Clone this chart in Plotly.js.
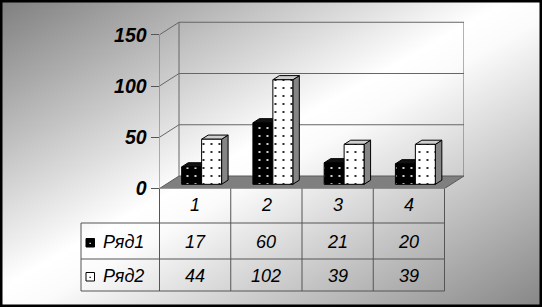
<!DOCTYPE html>
<html><head><meta charset="utf-8">
<script src="https://cdn.plot.ly/plotly-3.0.1.min.js"></script>
<style>
html,body{margin:0;padding:0;background:#fff;}
#chart{width:542px;height:307px;background:linear-gradient(to bottom right,#7e7e7e 0%,#ffffff 47%,#fbfbfb 53%,#868686 100%);}
</style></head><body><div id="chart"></div>
<script>
const categories = ['1', '2', '3', '4'];
const seriesNames = ['Ряд1', 'Ряд2'];
const series1 = [17, 60, 21, 20];
const series2 = [44, 102, 39, 39];
const yTicks = [0, 50, 100, 150];

const allSeries = [series1, series2];
const W = 542, H = 307;
const X0 = 159.5, CAT = 71.25, DXP = 19.5, DYP = 12.5, Y0 = 188.5, S = 1.025, YTOP = 20;
const N = categories.length;
const DXu = DXP / CAT, DYu = DYP / S;
const yMax = (Y0 - YTOP) / S;
const BW = 0.28;
const baseV = DYu / 3;
const px = x => x / W, py = y => 1 - y / H;
const P = (u, v, f) => [u + f * DXu, v + f * DYu];
const path = pts => 'M' + pts.map(p => p[0] + ',' + p[1]).join('L') + 'Z';
const FONT = 'Arial, "Liberation Sans", sans-serif';
const wallTop = yTicks[yTicks.length - 1];

const shapes = [];
const gl = {color: '#666', width: 1};
// floor
shapes.push({type: 'path', xref: 'x', yref: 'y', layer: 'below',
  path: path([P(0, 0, 0), P(N, 0, 0), P(N, 0, 1), P(0, 0, 1)]),
  fillcolor: '#7f7f7f', line: {color: '#5a5a5a', width: 1}});
// walls
yTicks.forEach(t => {
  if (t > 0) {
    const a = P(0, t, 1), b = P(N, t, 1), c = P(0, t, 0);
    shapes.push({type: 'line', xref: 'x', yref: 'y', layer: 'below', x0: a[0], y0: a[1], x1: b[0], y1: b[1], line: gl});
    shapes.push({type: 'line', xref: 'x', yref: 'y', layer: 'below', x0: c[0], y0: c[1], x1: a[0], y1: a[1], line: gl});
  }
});
[[P(0, 0, 1), P(0, wallTop, 1)], [P(N, 0, 1), P(N, wallTop, 1)], [P(0, 0, 0), P(0, wallTop, 0)]].forEach(([a, b]) => {
  shapes.push({type: 'line', xref: 'x', yref: 'y', layer: 'below', x0: a[0], y0: a[1], x1: b[0], y1: b[1], line: gl});
});
// bar side & top faces
const dd = DXu / 3, dh = DYu / 3;
allSeries.forEach((ser, j) => {
  ser.forEach((v, i) => {
    const c = i + 0.5 + dd;
    const xl = c - BW + j * BW, xr = xl + BW;
    shapes.push({type: 'path', xref: 'x', yref: 'y', layer: 'below',
      path: path([[xr, baseV], [xr, baseV + v], [xr + dd, baseV + v + dh], [xr + dd, baseV + dh]]),
      fillcolor: j === 0 ? '#111' : '#858585', line: {color: '#000', width: 1}});
    shapes.push({type: 'path', xref: 'x', yref: 'y', layer: 'below',
      path: path([[xl, baseV + v], [xr, baseV + v], [xr + dd, baseV + v + dh], [xl + dd, baseV + v + dh]]),
      fillcolor: j === 0 ? '#111' : '#cfcfcf', line: {color: '#000', width: 1}});
  });
});
// data table
const tl = {color: '#555', width: 1};
const rows = [188.5, 223, 259, 291];
const legL = 81;
const colX = u => X0 + u * CAT;
for (let u = 0; u <= N; u++) {
  shapes.push({type: 'line', xref: 'paper', yref: 'paper', x0: px(colX(u)), x1: px(colX(u)), y0: py(rows[0]), y1: py(rows[3]), line: tl});
}
[1, 2, 3].forEach(r => {
  shapes.push({type: 'line', xref: 'paper', yref: 'paper', x0: px(legL), x1: px(colX(N)), y0: py(rows[r]), y1: py(rows[r]), line: tl});
});
shapes.push({type: 'line', xref: 'paper', yref: 'paper', x0: px(legL), x1: px(legL), y0: py(rows[1]), y1: py(rows[3]), line: tl});
// legend keys
const keyC = [243, 277];
seriesNames.forEach((nm, j) => {
  shapes.push({type: 'rect', xref: 'paper', yref: 'paper', x0: px(86), x1: px(94.5), y0: py(keyC[j] - 4.5), y1: py(keyC[j] + 4),
    fillcolor: j === 0 ? '#000' : '#fff', line: {color: '#000', width: 1}});
  shapes.push({type: 'rect', xref: 'paper', yref: 'paper', x0: px(89.5), x1: px(90.8), y0: py(keyC[j] - 0.2), y1: py(keyC[j] + 1.1),
    fillcolor: j === 0 ? '#fff' : '#000', line: {width: 0}});
});
// frame
shapes.push({type: 'rect', xref: 'paper', yref: 'paper', x0: 0, x1: 1, y0: 0, y1: 1, layer: 'above',
  fillcolor: 'rgba(0,0,0,0)', line: {color: '#000', width: 5}});

const annotations = [];
const tf = {family: FONT, size: 18, color: '#000', style: 'italic'};
const rowC = [205, 241.5, 275.5];
categories.forEach((c, i) => {
  annotations.push({xref: 'x', yref: 'paper', x: i + 0.5, y: py(rowC[0]), text: '<i>' + c + '</i>', showarrow: false, font: tf, xanchor: 'center', yanchor: 'middle'});
  allSeries.forEach((ser, j) => {
    annotations.push({xref: 'x', yref: 'paper', x: i + 0.5, y: py(rowC[j + 1]), text: '<i>' + ser[i] + '</i>', showarrow: false, font: tf, xanchor: 'center', yanchor: 'middle'});
  });
});
seriesNames.forEach((nm, j) => {
  annotations.push({xref: 'paper', yref: 'paper', x: px(101), y: py(rowC[j + 1]), text: '<i>' + nm + '</i>', showarrow: false, font: tf, xanchor: 'left', yanchor: 'middle'});
});

const traces = allSeries.map((ser, j) => ({
  type: 'bar', name: seriesNames[j],
  x: categories.map((c, i) => i + 0.5 + dd),
  y: ser, base: baseV,
  marker: {color: j === 0 ? '#000' : '#fff', line: {color: '#000', width: 1},
    pattern: {shape: '.', fgcolor: j === 0 ? '#fff' : '#000', bgcolor: j === 0 ? '#000' : '#fff', size: 8, solidity: 0.06}},
  hoverinfo: 'skip'
}));

const layout = {
  width: W, height: H, margin: {l: 0, r: 0, t: 0, b: 0, pad: 0},
  paper_bgcolor: 'rgba(0,0,0,0)', plot_bgcolor: 'rgba(0,0,0,0)',
  showlegend: false, barmode: 'group', bargap: 1 - 2 * BW, bargroupgap: 0,
  xaxis: {domain: [px(X0), px(X0 + CAT * (N + DXu))], range: [0, N + DXu], visible: false, fixedrange: true},
  yaxis: {domain: [py(Y0), py(YTOP)], range: [0, yMax], tickvals: yTicks,
    ticktext: yTicks.map(t => '<b><i>' + t + '</i></b>'),
    ticks: 'outside', ticklen: 8, tickwidth: 1, tickcolor: '#555',
    showgrid: false, zeroline: false, showline: false, automargin: false, fixedrange: true,
    tickfont: {family: FONT, size: 19.5, color: '#000', weight: 'bold', style: 'italic'}},
  shapes: shapes, annotations: annotations
};
Plotly.newPlot('chart', traces, layout, {staticPlot: true, displayModeBar: false});
</script></body></html>
